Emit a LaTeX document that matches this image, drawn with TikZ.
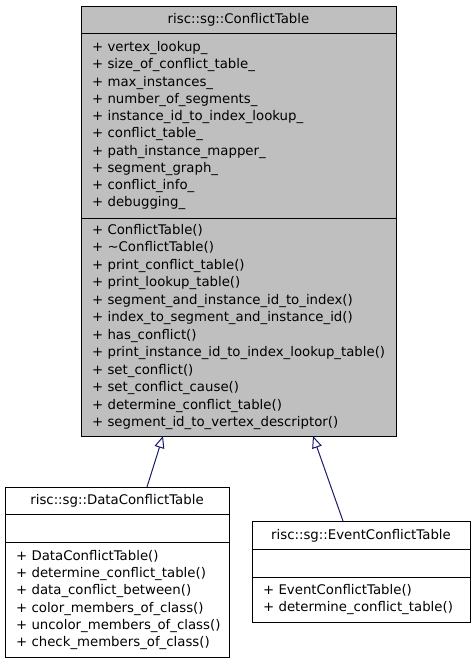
\documentclass[tikz,border=0pt]{standalone}
\usepackage{fontspec}
\setmainfont{DejaVu Sans}
\usetikzlibrary{arrows.meta}
\definecolor{boxgray}{HTML}{BFBFBF}
\definecolor{edgeblue}{HTML}{191970}
\begin{document}
\begin{tikzpicture}[x=1pt,y=-1pt,
  classbox/.style={draw=black, line width=1pt, inner sep=0pt, outer sep=0pt},
  sepline/.style={draw=black, line width=1pt},
  member/.style={anchor=base west, inner sep=0pt, font=\fontsize{13.3}{15}\selectfont},
  ctitle/.style={anchor=base, inner sep=0pt, font=\fontsize{13.3}{15}\selectfont},
  inherit/.style={draw=edgeblue, line width=1pt, -{Triangle[open, length=12pt, width=10pt, fill=white]}}]
\useasboundingbox (0,0) rectangle (475,664);
% main class
\node[classbox, fill=boxgray, minimum width=315pt, minimum height=430pt] (ct) at (238.5,221) {};
\coordinate (cs1) at (0,33);
\coordinate (cs2) at (0,218);
\draw[sepline] (ct.west |- cs1) -- (ct.east |- cs1);
\draw[sepline] (ct.west |- cs2) -- (ct.east |- cs2);
\node[ctitle] (ctt) at (238.5,23) {risc::sg::ConflictTable};
\foreach \t [count=\i] in {vertex\_lookup\_, size\_of\_conflict\_table\_, max\_instances\_, number\_of\_segments\_, instance\_id\_to\_index\_lookup\_, conflict\_table\_, path\_instance\_mapper\_, segment\_graph\_, conflict\_info\_, debugging\_}
  \node[member] (ca\i) at (92,{51.5+17.25*(\i-1)}) {+ \t};
\foreach \t [count=\i] in {ConflictTable(), \textasciitilde ConflictTable(), print\_conflict\_table(), print\_lookup\_table(), segment\_and\_instance\_id\_to\_index(), index\_to\_segment\_and\_instance\_id(), has\_conflict(), print\_instance\_id\_to\_index\_lookup\_table(), set\_conflict(), set\_conflict\_cause(), determine\_conflict\_table(), segment\_id\_to\_vertex\_descriptor()}
  \node[member] (cm\i) at (92,{234.5+17.45*(\i-1)}) {+ \t};
% data conflict table
\node[classbox, fill=white, minimum width=224pt, minimum height=170pt] (dct) at (117,572) {};
\coordinate (ds1) at (0,514);
\coordinate (ds2) at (0,542);
\draw[sepline] (dct.west |- ds1) -- (dct.east |- ds1);
\draw[sepline] (dct.west |- ds2) -- (dct.east |- ds2);
\node[ctitle] (dctt) at (117,504) {risc::sg::DataConflictTable};
\foreach \t [count=\i] in {DataConflictTable(), determine\_conflict\_table(), data\_conflict\_between(), color\_members\_of\_class(), uncolor\_members\_of\_class(), check\_members\_of\_class()}
  \node[member] (dm\i) at (16,{560.5+17.2*(\i-1)}) {+ \t};
% event conflict table
\node[classbox, fill=white, minimum width=218pt, minimum height=101pt] (ect) at (361,571.5) {};
\coordinate (es1) at (0,549);
\coordinate (es2) at (0,577);
\draw[sepline] (ect.west |- es1) -- (ect.east |- es1);
\draw[sepline] (ect.west |- es2) -- (ect.east |- es2);
\node[ctitle] (ectt) at (361,539) {risc::sg::EventConflictTable};
\foreach \t [count=\i] in {EventConflictTable(), determine\_conflict\_table()}
  \node[member] (em\i) at (263,{594.5+17.2*(\i-1)}) {+ \t};
% inheritance
\coordinate (dx0) at (147,0);
\coordinate (dx1) at (163,0);
\coordinate (ex0) at (343,0);
\coordinate (ex1) at (313,0);
\draw[inherit] (dct.north -| dx0) -- (ct.south -| dx1);
\draw[inherit] (ect.north -| ex0) -- (ct.south -| ex1);
\end{tikzpicture}
\end{document}
